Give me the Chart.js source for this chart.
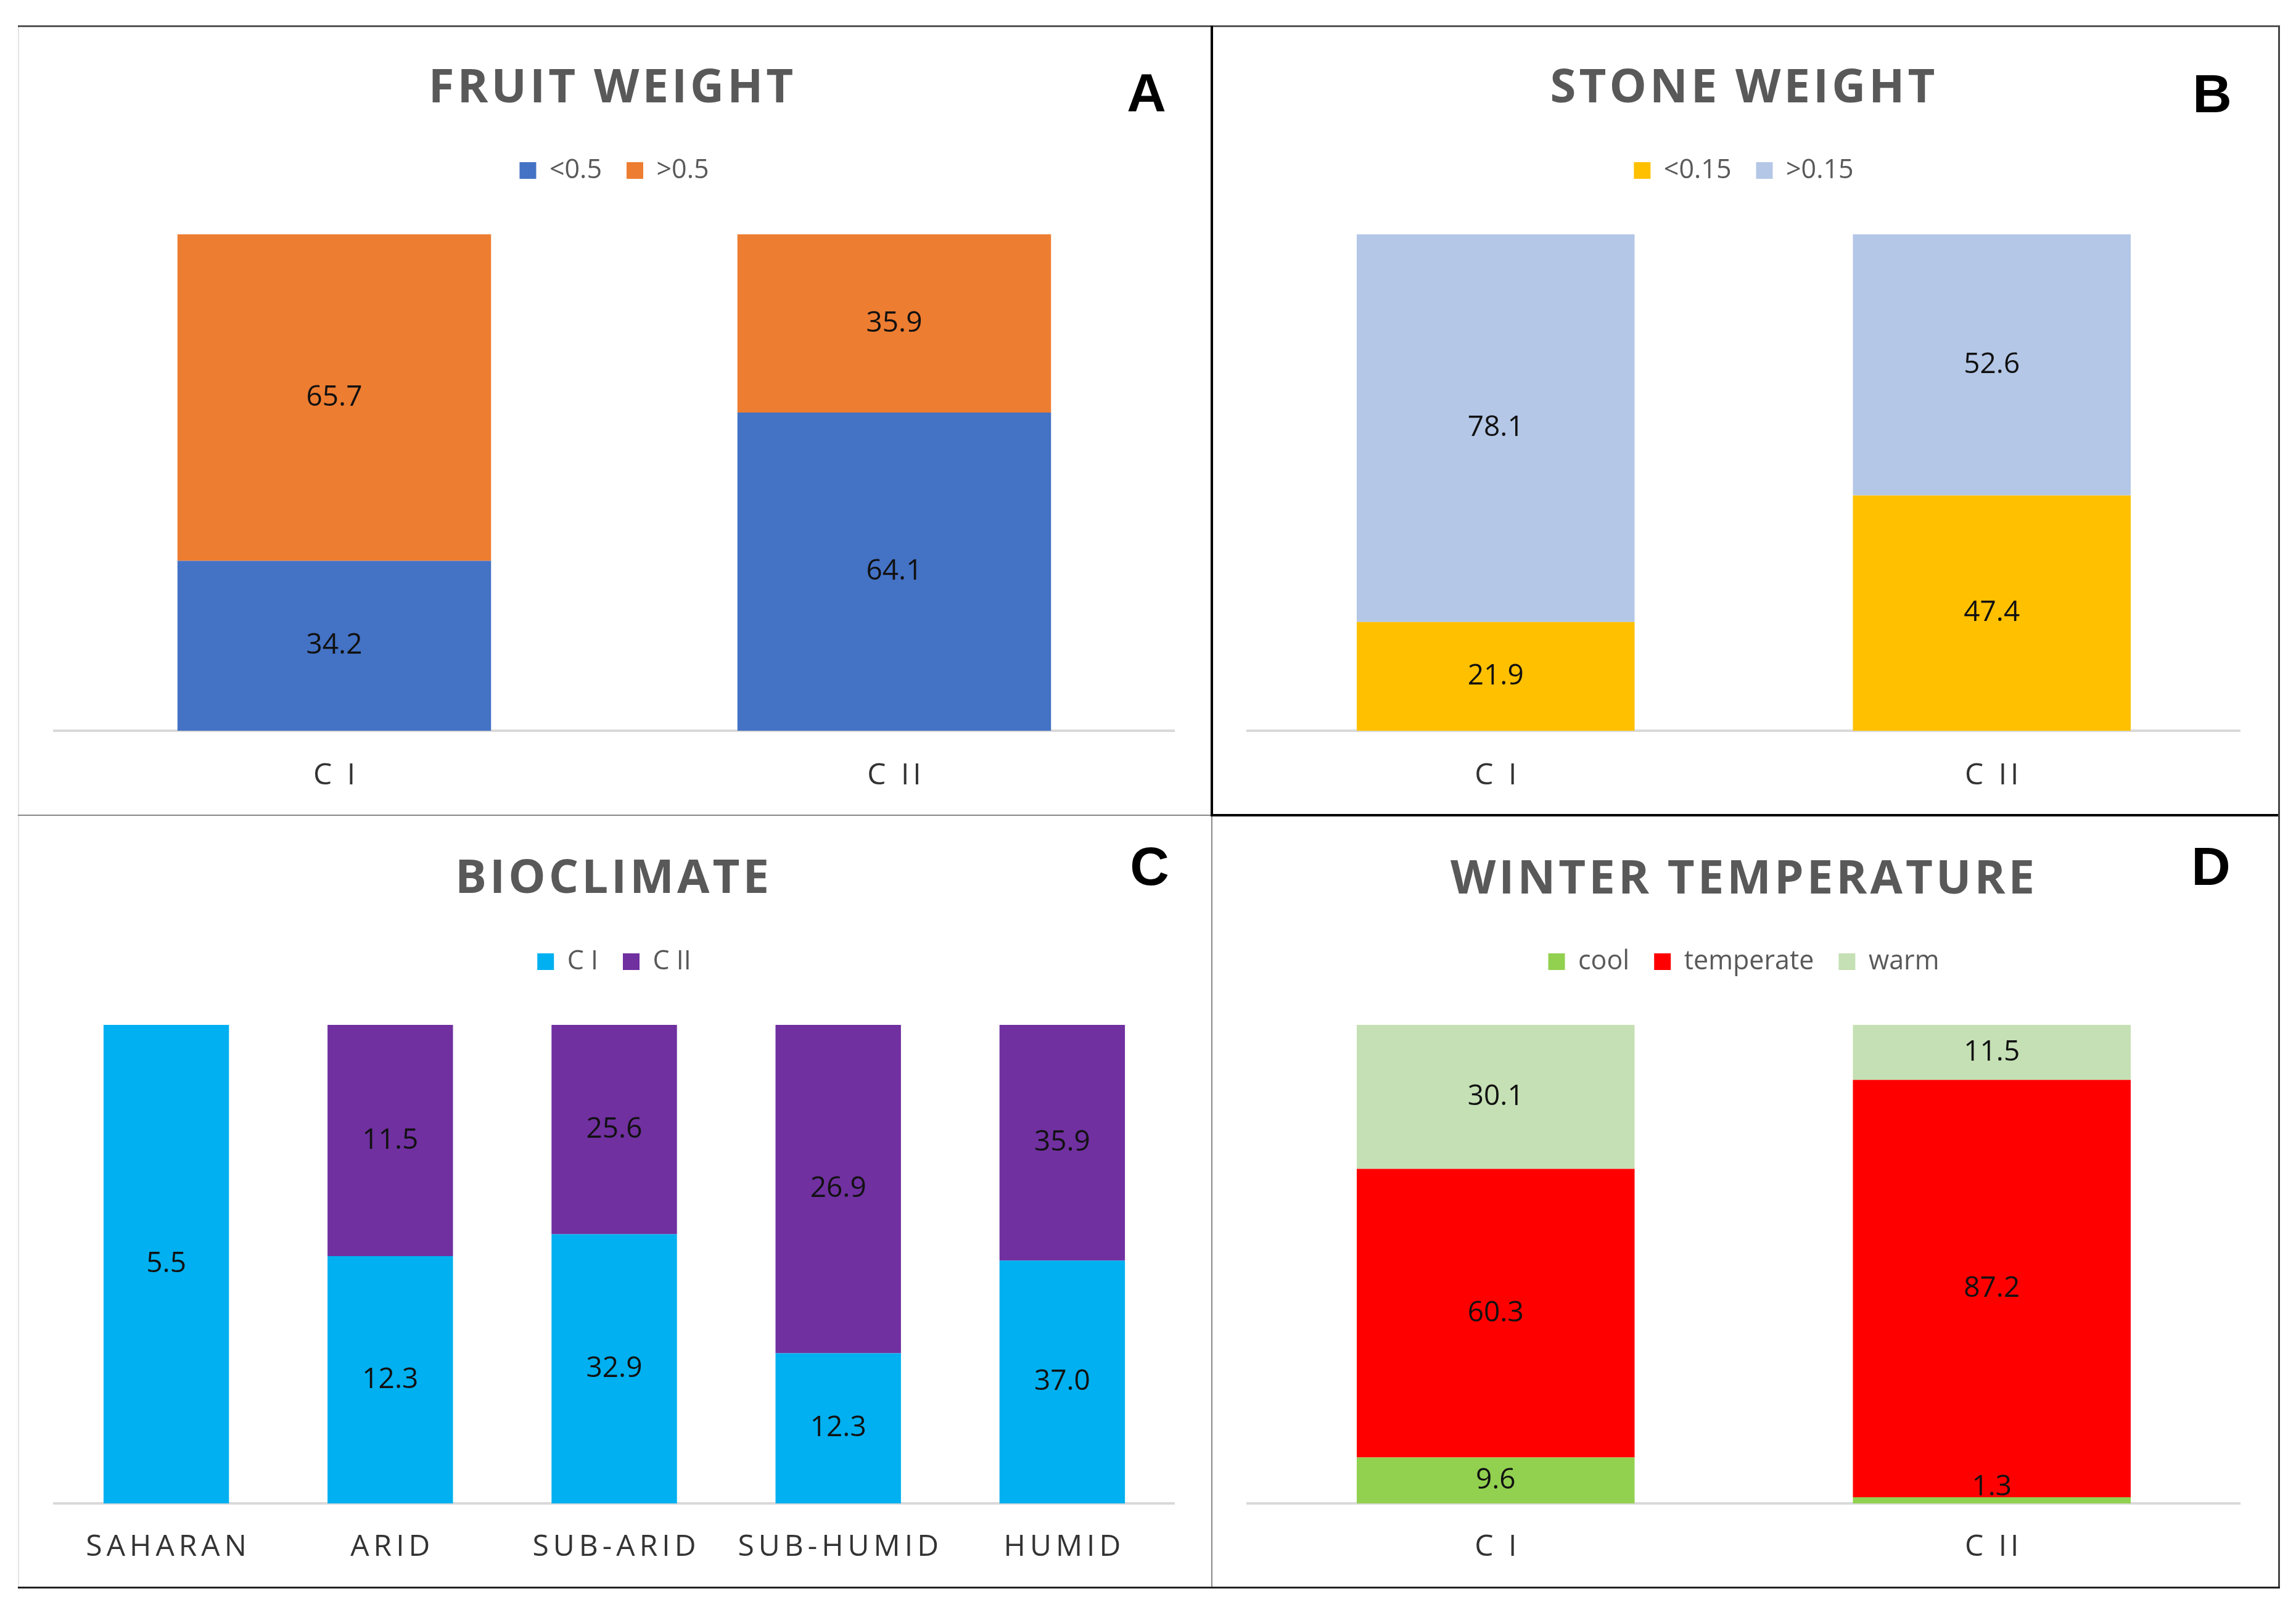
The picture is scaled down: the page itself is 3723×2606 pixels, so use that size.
<!DOCTYPE html>
<html>
<head>
<meta charset="utf-8">
<title>Fruit weight, stone weight, bioclimate, winter temperature</title>
<script src="https://cdn.jsdelivr.net/npm/chart.js@4.4.1/dist/chart.umd.min.js"></script>
<style>
    html, body { margin: 0; padding: 0; background: #fff; }
    #page { position: relative; width: 3723px; height: 2606px; overflow: hidden; background: #fff; }
    .panel { position: absolute; }
    .title {
        position: absolute; transform: translate(-50%, -50%);
        font-family: 'Open Sans'; font-weight: 700; font-size: 76px; letter-spacing: 5px;
        color: #595959; white-space: nowrap; line-height: 1;
    }
    .tag {
        position: absolute; transform: translate(-50%, -50%);
        font-family: 'Liberation Sans'; font-weight: 700; font-size: 88px;
        color: #000; line-height: 1;
    }
    .line { position: absolute; }
</style>
</head>
<body>
<div id="page">
    <canvas id="fruitChart" class="panel" width="1936" height="1280" style="left:29px;top:42px"></canvas>
    <canvas id="stoneChart" class="panel" width="1732" height="1280" style="left:1965px;top:42px"></canvas>
    <canvas id="bioChart" class="panel" width="1936" height="1253" style="left:29px;top:1322px"></canvas>
    <canvas id="winterChart" class="panel" width="1732" height="1253" style="left:1965px;top:1322px"></canvas>

    <div class="title" style="left:993px;top:137px">FRUIT WEIGHT</div>
    <div class="title" style="left:2828px;top:137px">STONE WEIGHT</div>
    <div class="title" style="left:995px;top:1419px">BIOCLIMATE</div>
    <div class="title" style="left:2828px;top:1420px">WINTER TEMPERATURE</div>

    <div class="tag" style="left:1859px;top:150px">A</div>
    <div class="tag" style="left:3587px;top:152px">B</div>
    <div class="tag" style="left:1864px;top:1405px">C</div>
    <div class="tag" style="left:3585px;top:1405px">D</div>

    <!-- panel frames -->
    <div class="line" style="left:29px;top:41px;width:3668px;height:3px;background:#555"></div>
    <div class="line" style="left:29px;top:44px;width:2px;height:2531px;background:#e4e4e4"></div>
    <div class="line" style="left:1963px;top:42px;width:4px;height:1282px;background:#000"></div>
    <div class="line" style="left:1964px;top:1322px;width:2px;height:1253px;background:#888"></div>
    <div class="line" style="left:29px;top:1321px;width:1936px;height:2px;background:#888"></div>
    <div class="line" style="left:1963px;top:1320px;width:1734px;height:4px;background:#000"></div>
    <div class="line" style="left:3694px;top:42px;width:3px;height:2534px;background:#444"></div>
    <div class="line" style="left:29px;top:2573px;width:3668px;height:3px;background:#222"></div>
</div>

<script>
// Fruit weight (A)
const fruitCategories = ['C I', 'C II'];
const fruitSeries = ['<0.5', '>0.5'];
const fruitLow = [34.2, 64.1];
const fruitHigh = [65.7, 35.9];

// Stone weight (B)
const stoneCategories = ['C I', 'C II'];
const stoneSeries = ['<0.15', '>0.15'];
const stoneLow = [21.9, 47.4];
const stoneHigh = [78.1, 52.6];

// Bioclimate (C)
const bioCategories = ['SAHARAN', 'ARID', 'SUB-ARID', 'SUB-HUMID', 'HUMID'];
const bioSeries = ['C I', 'C II'];
const bioC1 = [5.5, 12.3, 32.9, 12.3, 37.0];
const bioC2 = [0, 11.5, 25.6, 26.9, 35.9];

// Winter temperature (D)
const winterCategories = ['C I', 'C II'];
const winterSeries = ['cool', 'temperate', 'warm'];
const winterCool = [9.6, 1.3];
const winterTemperate = [60.3, 87.2];
const winterWarm = [30.1, 11.5];

// Stretch the legend block so the bars start where they should
const legendSpacer = (height) => ({
    id: 'legendSpacer',
    beforeInit(chart) {
        const fit = chart.legend.fit;
        chart.legend.fit = function () {
            fit.call(this);
            this.height = height;
        };
    }
});

// Value written in the middle of each stacked segment
const segmentLabels = {
    id: 'segmentLabels',
    afterDatasetsDraw(chart) {
        const ctx = chart.ctx;
        ctx.save();
        ctx.font = '46px "Open Sans"';
        ctx.fillStyle = '#111';
        ctx.textAlign = 'center';
        ctx.textBaseline = 'middle';
        chart.data.datasets.forEach((ds, k) => {
            chart.getDatasetMeta(k).data.forEach((bar, i) => {
                const v = ds.values[i];
                if (!v) return;
                const y = Math.min((bar.y + bar.base) / 2, bar.base - 26);
                ctx.fillText(v.toFixed(1), bar.x, y);
            });
        });
        ctx.restore();
    }
};

// Category names under the axis, letter-spaced
const categoryLabels = (offset, spacing) => ({
    id: 'categoryLabels',
    afterDraw(chart) {
        const ctx = chart.ctx;
        const xScale = chart.scales.x;
        ctx.save();
        ctx.font = '48px "Open Sans"';
        ctx.fillStyle = '#333';
        ctx.textAlign = 'center';
        ctx.textBaseline = 'middle';
        ctx.letterSpacing = spacing + 'px';
        chart.data.labels.forEach((label, i) => {
            ctx.fillText(label, xScale.getPixelForTick(i) + spacing / 2, chart.chartArea.bottom + offset);
        });
        ctx.restore();
    }
});

/**
 * 100% stacked column chart; labels keep the raw values
 */
function initStackedChart(canvasId, categories, seriesNames, seriesValues, seriesColors, box) {
    const canvas = document.getElementById(canvasId);
    if (!canvas) return null;

    const totals = categories.map((_, i) => seriesValues.reduce((s, arr) => s + arr[i], 0));

    const datasets = seriesNames.map((name, k) => ({
        label: name,
        data: seriesValues[k].map((v, i) => totals[i] > 0 ? v / totals[i] * 100 : 0),
        values: seriesValues[k],
        backgroundColor: seriesColors[k],
        borderWidth: 0,
        categoryPercentage: 1,
        barPercentage: 0.56
    }));

    return new Chart(canvas.getContext('2d'), {
        type: 'bar',
        data: { labels: categories, datasets: datasets },
        options: {
            responsive: false,
            animation: false,
            devicePixelRatio: 1,
            layout: {
                padding: { top: box.top, left: box.left, right: box.right, bottom: box.bottom }
            },
            plugins: {
                legend: {
                    position: 'top',
                    labels: {
                        font: { family: 'Open Sans', size: 43 },
                        color: '#595959',
                        boxWidth: 27,
                        boxHeight: 27,
                        padding: 40
                    }
                },
                tooltip: { enabled: false }
            },
            scales: {
                x: {
                    stacked: true,
                    grid: { display: false },
                    border: { display: true, color: '#d9d9d9', width: 4 },
                    ticks: { display: false }
                },
                y: {
                    stacked: true,
                    display: false,
                    min: 0,
                    max: 100
                }
            }
        },
        plugins: [legendSpacer(box.legendHeight), segmentLabels, categoryLabels(box.labelOffset, box.spacing)]
    });
}

initStackedChart('fruitChart', fruitCategories, fruitSeries, [fruitLow, fruitHigh],
    ['#4472C4', '#ED7D31'],
    { top: 173, legendHeight: 165, left: 59, right: 61, bottom: 129, labelOffset: 73, spacing: 6 });

initStackedChart('stoneChart', stoneCategories, stoneSeries, [stoneLow, stoneHigh],
    ['#FFC000', '#B4C7E7'],
    { top: 173, legendHeight: 165, left: 58, right: 65, bottom: 129, labelOffset: 73, spacing: 6 });

initStackedChart('bioChart', bioCategories, bioSeries, [bioC1, bioC2],
    ['#00B0F0', '#7030A0'],
    { top: 176, legendHeight: 164, left: 59, right: 61, bottom: 129, labelOffset: 71, spacing: 7 });

initStackedChart('winterChart', winterCategories, winterSeries, [winterCool, winterTemperate, winterWarm],
    ['#92D050', '#FF0000', '#C5E0B4'],
    { top: 176, legendHeight: 164, left: 58, right: 65, bottom: 129, labelOffset: 71, spacing: 6 });
</script>
</body>
</html>
